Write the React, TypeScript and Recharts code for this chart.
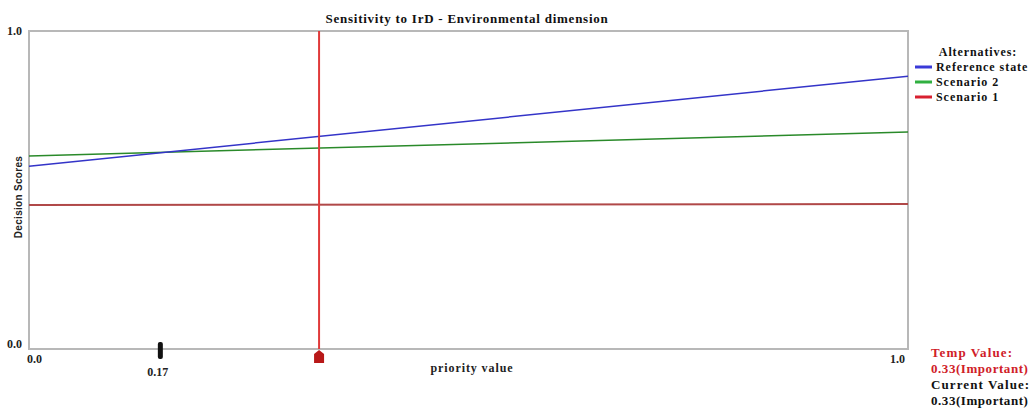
import React from 'react';
import {
  LineChart,
  Line,
  XAxis,
  YAxis,
  ReferenceLine,
  ReferenceArea,
  ReferenceDot,
} from 'recharts';

// priority values along the x axis
const priority = [0, 1];
const referenceState = [0.575, 0.858];
const scenario2 = [0.607, 0.682];
const scenario1 = [0.453, 0.456];

const xTicks = [0, 1];
const yTicks = [0, 1];
const currentPriority = 0.33;
const markerPos = 0.15;
const markerLabel = '0.17';

const legendItems = [
  { name: 'Reference state', color: '#3a3ad8' },
  { name: 'Scenario 2', color: '#30b040' },
  { name: 'Scenario 1', color: '#d82030' },
];

const data = priority.map((p, i) => ({
  p,
  ref: referenceState[i],
  s2: scenario2[i],
  s1: scenario1[i],
}));

const FONT = '"Liberation Serif", "DejaVu Serif", serif';

const XTick = (props: any) => {
  const { x, y, payload } = props;
  const isEnd = payload.value === 1;
  return (
    <text
      x={isEnd ? x - 3 : x - 2}
      y={y + 6}
      textAnchor={isEnd ? 'end' : 'start'}
      fontFamily={FONT}
      fontWeight="bold"
      fontSize={12}
      fill="#222"
    >
      {payload.value.toFixed(1)}
    </text>
  );
};

const YTick = (props: any) => {
  const { x, y, payload } = props;
  return (
    <text
      x={x + 1}
      y={payload.value === 0 ? y - 1 : y + 4}
      textAnchor="end"
      fontFamily={FONT}
      fontWeight="bold"
      fontSize={12}
      fill="#222"
    >
      {payload.value.toFixed(1)}
    </text>
  );
};

export default function App() {
  return (
    <div style={{ position: 'absolute', left: 0, top: 0, width: 1034, height: 409, background: '#fff' }}>
      <LineChart
        width={1034}
        height={409}
        data={data}
        margin={{ top: 31, right: 126, bottom: 0, left: 0 }}
      >
        <XAxis
          dataKey="p"
          type="number"
          domain={[0, 1]}
          ticks={xTicks}
          tick={<XTick />}
          tickLine={false}
          axisLine={false}
          height={60}
        />
        <YAxis
          type="number"
          domain={[0, 1]}
          ticks={yTicks}
          tick={<YTick />}
          tickLine={false}
          axisLine={false}
          width={29}
        />
        <ReferenceArea x1={0} x2={1} y1={0} y2={1} fill="none" stroke="#b8b8b8" strokeWidth={2} />
        <Line dataKey="s1" stroke="#b04848" strokeWidth={2} dot={false} isAnimationActive={false} />
        <Line dataKey="s2" stroke="#2a8a2a" strokeWidth={1.5} dot={false} isAnimationActive={false} />
        <Line dataKey="ref" stroke="#3434c8" strokeWidth={1.5} dot={false} isAnimationActive={false} />
        <ReferenceLine x={currentPriority} stroke="#e03a3a" strokeWidth={2} />
        <ReferenceDot
          x={currentPriority}
          y={0}
          ifOverflow="visible"
          shape={(p: any) => (
            <path
              d={`M${p.cx - 5} ${p.cy + 5} L${p.cx} ${p.cy + 1} L${p.cx + 5} ${p.cy + 5} L${p.cx + 5} ${p.cy + 14} L${p.cx - 5} ${p.cy + 14} Z`}
              fill="#b81818"
            />
          )}
        />
        <ReferenceDot
          x={markerPos}
          y={0}
          ifOverflow="visible"
          shape={(p: any) => (
            <g>
              <rect x={p.cx - 3} y={p.cy - 7} width={5} height={17} rx={2} fill="#111" />
              <text
                x={p.cx - 3}
                y={p.cy + 27}
                textAnchor="middle"
                fontFamily={FONT}
                fontWeight="bold"
                fontSize={12}
                fill="#222"
              >
                {markerLabel}
              </text>
            </g>
          )}
        />
        <text x={467} y={23} textAnchor="middle" fontFamily={FONT} fontWeight="bold" fontSize={13} letterSpacing={0.75} fill="#111">
          Sensitivity to IrD - Environmental dimension
        </text>
        <text x={472} y={372} textAnchor="middle" fontFamily={FONT} fontWeight="bold" fontSize={12} letterSpacing={0.9} fill="#222">
          priority value
        </text>
        <text
          x={22}
          y={197}
          transform="rotate(-90 22 197)"
          textAnchor="middle"
          fontFamily='"Liberation Sans", Arial, sans-serif'
          fontWeight="bold"
          fontSize={10}
          letterSpacing={0.3}
          fill="#222"
        >
          Decision Scores
        </text>
        <text x={978} y={56} textAnchor="middle" fontFamily={FONT} fontWeight="bold" fontSize={12} letterSpacing={0.9} fill="#111">
          Alternatives:
        </text>
        {legendItems.map((it, i) => (
          <g key={it.name}>
            <line x1={915} x2={932} y1={67 + i * 15} y2={67 + i * 15} stroke={it.color} strokeWidth={3} />
            <text x={936} y={71 + i * 15} fontFamily={FONT} fontWeight="bold" fontSize={12} letterSpacing={0.95} fill="#111">
              {it.name}
            </text>
          </g>
        ))}
        <text x={931} y={357} fontFamily={FONT} fontWeight="bold" fontSize={13} letterSpacing={1.1} fill="#d02028">
          Temp Value:
        </text>
        <text x={931} y={373} fontFamily={FONT} fontWeight="bold" fontSize={13} letterSpacing={0.55} fill="#d02028">
          0.33(Important)
        </text>
        <text x={931} y={389} fontFamily={FONT} fontWeight="bold" fontSize={13} letterSpacing={1.1} fill="#111">
          Current Value:
        </text>
        <text x={931} y={405} fontFamily={FONT} fontWeight="bold" fontSize={13} letterSpacing={0.55} fill="#111">
          0.33(Important)
        </text>
      </LineChart>
    </div>
  );
}
